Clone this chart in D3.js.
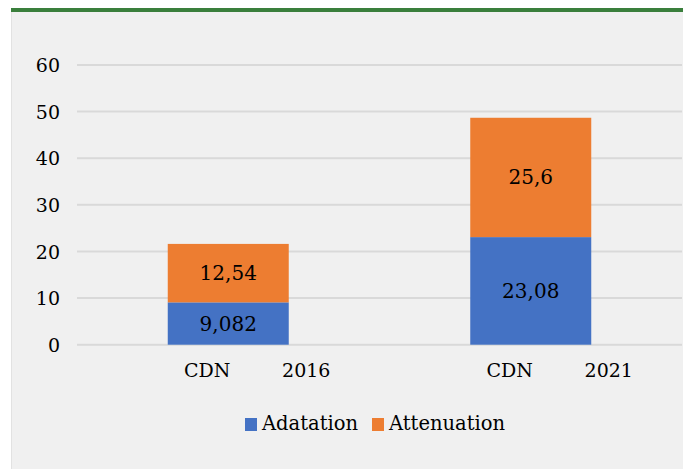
<!DOCTYPE html>
<html>
<head>
<meta charset="utf-8">
<script src="https://cdn.jsdelivr.net/npm/d3@7"></script>
<style>
  html, body { margin: 0; padding: 0; background: #ffffff; }
  svg { display: block; }
  text { font-family: Georgia, "DejaVu Serif", serif; fill: #000; }
</style>
</head>
<body>
<svg id="chart" width="683" height="469"></svg>
<script>
// Stacked bars: CDN targets by year
const categories = ["2016", "2021"];
const groupLabel = "CDN";
const seriesNames = ["Adatation", "Attenuation"];
const adaptation = [9.082, 23.08];
const attenuation = [12.54, 25.6];
const valueLabels = [["9,082", "23,08"], ["12,54", "25,6"]];
const yTicks = [0, 10, 20, 30, 40, 50, 60];
const colors = ["#4472c4", "#ed7d31"];

const svg = d3.select("#chart");
const W = 683, H = 469;

// panel background and top rule
svg.append("rect").attr("x", 11).attr("y", 8).attr("width", W - 11).attr("height", H - 8)
  .attr("fill", "#f0f0f0");
svg.append("line").attr("x1", 11.5).attr("x2", 11.5).attr("y1", 8).attr("y2", H)
  .attr("stroke", "#e2e2e2").attr("stroke-width", 1);
svg.append("rect").attr("x", 11).attr("y", 8).attr("width", W - 11).attr("height", 4)
  .attr("fill", "#3a7f3c");

const plot = { left: 77, right: 682, top: 65, bottom: 344.7 };

const x = d3.scaleBand().domain(categories)
  .range([plot.left, plot.right]).paddingInner(0.6).paddingOuter(0.3);
const y = d3.scaleLinear().domain([0, 60]).range([plot.bottom, plot.top]);

// gridlines
svg.append("g").selectAll("line").data(yTicks).join("line")
  .attr("x1", plot.left).attr("x2", plot.right)
  .attr("y1", d => y(d)).attr("y2", d => y(d))
  .attr("stroke", "#d9d9d9").attr("stroke-width", 2);

// y axis labels
const yAxis = d3.axisLeft(y).tickValues(yTicks).tickSize(0).tickPadding(0);
const yg = svg.append("g").attr("transform", `translate(${plot.left - 17},0)`).call(yAxis);
yg.select(".domain").remove();
yg.selectAll("text").attr("font-size", 19).attr("font-family", "Georgia, 'DejaVu Serif', serif")
  .attr("fill", "#000").attr("dy", "0.35em");

// stacked data
const rows = categories.map((c, i) => ({ cat: c, Adatation: adaptation[i], Attenuation: attenuation[i] }));
const stack = d3.stack().keys(seriesNames)(rows);

const layers = svg.append("g").selectAll("g").data(stack).join("g")
  .attr("fill", (d, i) => colors[i]);
layers.selectAll("rect").data(d => d).join("rect")
  .attr("x", d => x(d.data.cat))
  .attr("width", x.bandwidth())
  .attr("y", d => y(d[1]))
  .attr("height", d => y(d[0]) - y(d[1]));

// value labels
stack.forEach((layer, si) => {
  svg.append("g").selectAll("text").data(layer).join("text")
    .attr("x", d => x(d.data.cat) + x.bandwidth() / 2)
    .attr("y", d => (y(d[0]) + y(d[1])) / 2)
    .attr("dy", "0.35em")
    .attr("text-anchor", "middle")
    .attr("font-size", 20)
    .text((d, i) => valueLabels[si][i]);
});

// category labels (group + year)
const cx = c => x(c) + x.bandwidth() / 2;
const xl = svg.append("g");
xl.selectAll("text.grp").data(categories).join("text").attr("class", "grp")
  .attr("x", d => cx(d) - 21).attr("y", 377)
  .attr("text-anchor", "middle").attr("font-size", 19).text(groupLabel);
xl.selectAll("text.yr").data(categories).join("text").attr("class", "yr")
  .attr("x", d => cx(d) + 78).attr("y", 377)
  .attr("text-anchor", "middle").attr("font-size", 19).text(d => d);

// legend
const legendItems = [
  { name: seriesNames[0], color: colors[0], x: 245 },
  { name: seriesNames[1], color: colors[1], x: 372 }
];
const lg = svg.append("g");
legendItems.forEach(it => {
  lg.append("rect").attr("x", it.x).attr("y", 418).attr("width", 12).attr("height", 13).attr("fill", it.color);
  lg.append("text").attr("x", it.x + 17).attr("y", 430).attr("font-size", 19.5).text(it.name);
});
</script>
</body>
</html>
